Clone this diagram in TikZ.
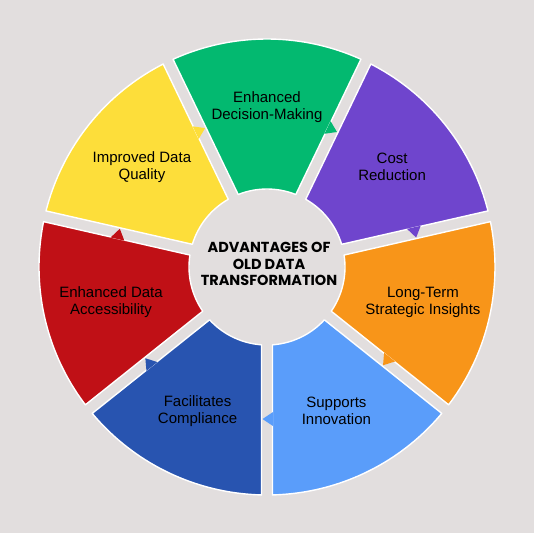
\documentclass[tikz,border=0pt]{standalone}
\usepackage{fontspec}
\setmainfont{Liberation Sans}
\newfontfamily\headfont{Poppins}
\usepackage{tikz}
\usetikzlibrary{calc}
\definecolor{bggray}{RGB}{226,222,222}
\definecolor{seggreen}{RGB}{3,185,112}
\definecolor{segpurple}{RGB}{111,69,205}
\definecolor{segorange}{RGB}{248,149,25}
\definecolor{seglight}{RGB}{90,157,250}
\definecolor{segblue}{RGB}{40,84,176}
\definecolor{segred}{RGB}{192,16,22}
\definecolor{segyellow}{RGB}{253,222,58}
\newcommand{\outerR}{228pt}
\newcommand{\innerR}{78pt}

\begin{document}
\begin{tikzpicture}[
  x=1pt,y=1pt,
  segment/.style={draw=white,line width=1.4pt,line join=round},
  pointer/.style={draw=none},
  label/.style={align=center,text=black,font=\fontsize{15}{17}\selectfont},
  title/.style={align=center,text=black,font=\headfont\bfseries\fontsize{14.5}{16.5}\selectfont}
]
\fill[bggray] (-267,-266) rectangle (267,267);
\useasboundingbox (-267,-266) rectangle (267,267);

% angular offsets keep the gaps the same width all along
\pgfmathsetmacro\dO{asin(5.5/228)}
\pgfmathsetmacro\dI{asin(5.5/78)}

\foreach \a/\col/\nm/\txt in {
  64.29/seggreen/dec/{Enhanced\\Decision-Making},
  12.86/segpurple/cost/{Cost\\Reduction},
  -38.57/segorange/ltsi/{Long-Term\\Strategic Insights},
  -90/seglight/innov/{Supports\\Innovation},
  -141.43/segblue/compl/{Facilitates\\Compliance},
  167.14/segred/access/{Enhanced Data\\Accessibility},
  115.71/segyellow/qual/{Improved Data\\Quality}}{
  \pgfmathsetmacro\b{\a+51.43}
  \pgfmathsetmacro\m{\a+25.71}
  \filldraw[segment,fill=\col]
    ({\a+\dO}:\outerR) arc[start angle=\a+\dO,end angle=\b-\dO,radius=\outerR]
    -- ({\b-\dI}:\innerR) arc[start angle=\b-\dI,end angle=\a+\dI,radius=\innerR]
    -- cycle;
  % small pointer towards the next segment
  \fill[pointer,\col] ($(\a:145pt)+(\a+90:6pt)$) -- ($(\a:159pt)+(\a+90:6pt)$)
    -- ($(\a:152pt)+(\a-90:4.5pt)$) -- cycle;
  \node[label] (lbl-\nm) at (\m:160pt) {\txt};
}

\node[title] (title) at (2,3) {ADVANTAGES OF\\OLD DATA\\TRANSFORMATION};
\end{tikzpicture}
\end{document}
